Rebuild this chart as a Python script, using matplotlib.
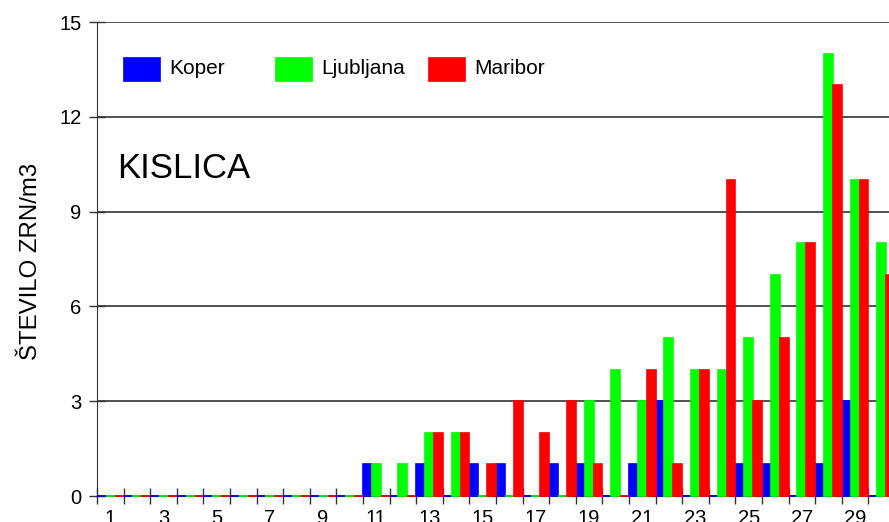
import matplotlib
matplotlib.use("Agg")
import matplotlib.pyplot as plt
from matplotlib.patches import Rectangle
import numpy as np

# ── Data ──────────────────────────────────────────────────────────────────────
DAYS = list(range(1, 31))

KOPER = [0, 0, 0, 0, 0, 0, 0, 0, 0, 0,
         1, 0, 1, 0, 1, 1, 0, 1, 1, 0,
         1, 3, 0, 0, 1, 1, 0, 1, 3, 0]
LJUBLJANA = [0, 0, 0, 0, 0, 0, 0, 0, 0, 0,
             1, 1, 2, 2, 0, 0, 0, 0, 3, 4,
             3, 5, 4, 4, 5, 7, 8, 14, 10, 8]
MARIBOR = [0, 0, 0, 0, 0, 0, 0, 0, 0, 0,
           0, 0, 2, 2, 1, 3, 2, 3, 1, 0,
           4, 1, 4, 10, 3, 5, 8, 13, 10, 7]

SERIES = ["Koper", "Ljubljana", "Maribor"]
COLORS = ["#0000FF", "#00FF00", "#FF0000"]

Y_TICKS = [0, 3, 6, 9, 12, 15]

# ── Figure ────────────────────────────────────────────────────────────────────
plt.rcParams["font.family"] = ["Liberation Sans", "DejaVu Sans"]

W, H = 889, 522
fig = plt.figure(figsize=(W / 100, H / 100), dpi=100)
ax = fig.add_axes([97 / W, 26 / H, 798 / W, 474 / H])

x = np.array(DAYS, dtype=float)
w = 1 / 3
for i, (name, vals, col) in enumerate(zip(SERIES, [KOPER, LJUBLJANA, MARIBOR], COLORS)):
    ax.bar(x - 0.5 + w * (i + 0.5), vals, width=w, color=col,
           edgecolor=col, linewidth=1.2, zorder=3, clip_on=False)

ax.set_xlim(0.5, 30.5)
ax.set_ylim(0, 15)

# gridlines
ax.set_yticks(Y_TICKS)
ax.yaxis.grid(True, color="#333333", linewidth=1.2, zorder=0)
ax.tick_params(axis="y", direction="inout", length=12, width=1,
               labelsize=14.5, pad=5, color="#333333")

# x: labels at odd day centers, tick marks at boundaries
ax.set_xticks([d for d in DAYS if d % 2 == 1])
ax.set_xticklabels([str(d) for d in DAYS if d % 2 == 1])
ax.set_xticks(np.arange(0.5, 31, 1.0), minor=True)
ax.tick_params(axis="x", which="major", length=0, labelsize=14.5, pad=9)
ax.tick_params(axis="x", which="minor", direction="inout", length=11.5,
               width=1, color="#333333")

for side in ["top", "right"]:
    ax.spines[side].set_visible(False)
ax.spines["left"].set_color("#333333")
ax.spines["bottom"].set_color("#333333")
ax.spines["bottom"].set_zorder(2)

fig.text(31 / W, 1 - 261 / H, "ŠTEVILO ZRN/m3", fontsize=17.3,
         rotation=90, ha="center", va="center")

fig.text(117 / W, 1 - 168 / H, "KISLICA", fontsize=25, va="center", ha="left")

# legend: fixed-width columns like the original
legend_x = [123, 275, 428]
for name, col, lx in zip(SERIES, COLORS, legend_x):
    fig.patches.append(Rectangle((lx / W, 1 - 81 / H), 37 / W, 24 / H,
                                 transform=fig.transFigure, facecolor=col,
                                 edgecolor=col, linewidth=0.5))
    fig.text((lx + 46) / W, 1 - 69 / H, name, fontsize=15,
             va="center", ha="left")

fig.savefig("out.png", dpi=100)
